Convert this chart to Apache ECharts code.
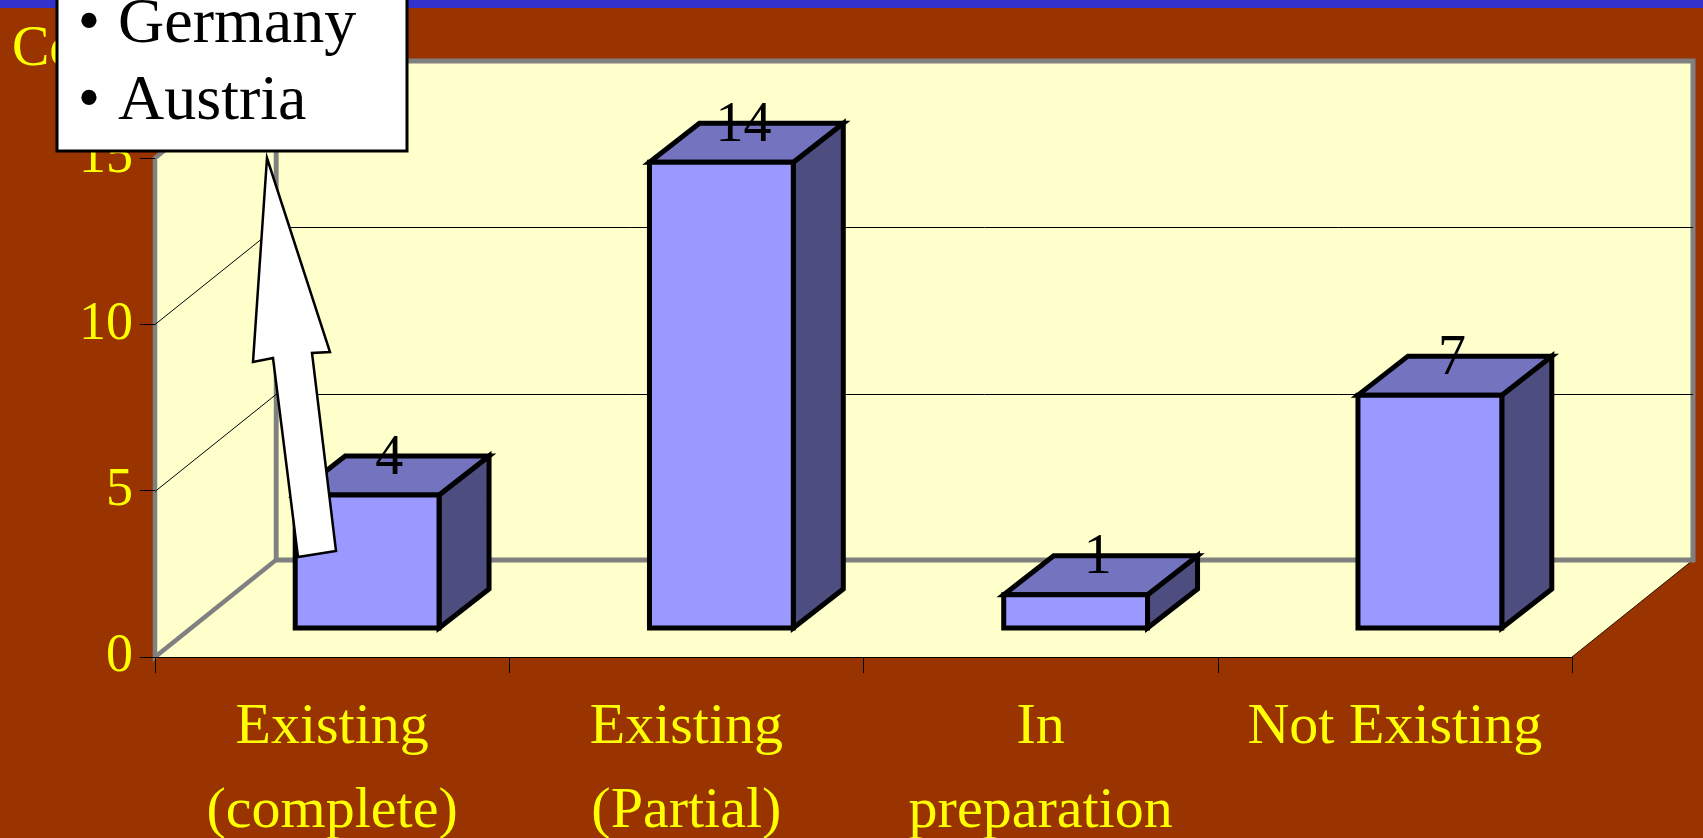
<!DOCTYPE html>
<html>
<head>
<meta charset="utf-8">
<title>Chart</title>
<style>
    html, body { margin: 0; padding: 0; background: #993300; }
    #chart { width: 1703px; height: 838px; }
</style>
<script src="https://cdn.jsdelivr.net/npm/echarts@6/dist/echarts.min.js"></script>
</head>
<body>
<div id="chart"></div>
<script>
// chart data
const categories = ['Existing\n(complete)', 'Existing\n(Partial)', 'In\npreparation', 'Not Existing'];
const values = [4, 14, 1, 7];
const gridValues = [5, 10];
const axisMax = 15;
const axisStep = 5;
const boxItems = ['Germany', 'Austria'];
const axisTitle = 'Co';

document.addEventListener('DOMContentLoaded', () => {
    const FONT = '"Liberation Serif", "Times New Roman", serif';
    const WALL_DX = 121, WALL_DY = 97;   // depth of the floor
    const BAR_DX = 50, BAR_DY = 39;      // depth of one bar
    const BAR_OFF_X = 35, BAR_OFF_Y = 29; // bars stand mid-way on the floor
    const WALL_FILL = '#FFFFCC', WALL_EDGE = '#808080';

    const myChart = echarts.init(document.getElementById('chart'));

    const poly = (points, fill, stroke, lineWidth) => ({
        type: 'polygon',
        shape: { points },
        style: { fill, stroke: stroke || null, lineWidth: lineWidth || 0, lineJoin: 'miter' }
    });
    const line = (a, b, stroke, lineWidth) => ({
        type: 'line',
        shape: { x1: a[0], y1: a[1], x2: b[0], y2: b[1] },
        style: { stroke, lineWidth }
    });

    // floor, back wall and left wall, all hung on the grid rectangle
    function renderWalls(params, api) {
        const cs = params.coordSys;
        const left = cs.x, right = cs.x + cs.width;
        const bottom = cs.y + cs.height, top = cs.y;
        const back = p => [p[0] + WALL_DX, p[1] - WALL_DY];
        const children = [
            poly([[left, bottom], back([left, bottom]), back([right, bottom]), [right, bottom]], WALL_FILL),
            line([right, bottom], back([right, bottom]), '#2a1500', 1),
            poly([back([left, top]), back([right, top]), back([right, bottom]), back([left, bottom])], WALL_FILL, WALL_EDGE, 5),
            poly([[left, top], back([left, top]), back([left, bottom]), [left, bottom]], WALL_FILL, WALL_EDGE, 4.5)
        ];
        gridValues.forEach(v => {
            const y = Math.round(api.coord([0, v])[1]) + 0.5;
            children.push(line([left, y], back([left, y]), '#000', 1));
            children.push(line(back([left, y]), back([right, y]), '#000', 1));
        });
        return { type: 'group', children };
    }

    // one 3D bar: front, top and side faces plus the value label
    function renderBar(params, api) {
        const idx = api.value(0);
        const val = api.value(1);
        const base = api.coord([idx, 0]);
        const head = api.coord([idx, val]);
        const w = api.size([1, 0])[0] * 0.406;
        const x1 = base[0] + BAR_OFF_X - w / 2;
        const x2 = x1 + w;
        const y1 = base[1] - BAR_OFF_Y;
        const y2 = head[1] - BAR_OFF_Y;
        return {
            type: 'group',
            children: [
                poly([[x2, y1], [x2 + BAR_DX, y1 - BAR_DY], [x2 + BAR_DX, y2 - BAR_DY], [x2, y2]], '#4D4D80', '#000', 5),
                poly([[x1, y2], [x2, y2], [x2 + BAR_DX, y2 - BAR_DY], [x1 + BAR_DX, y2 - BAR_DY]], '#7373BF', '#000', 5),
                poly([[x1, y1], [x2, y1], [x2, y2], [x1, y2]], '#9999FF', '#000', 5),
                {
                    type: 'text',
                    style: {
                        text: String(val),
                        x: (x1 + x2) / 2 + 22,
                        y: y2 - BAR_DY + 3,
                        align: 'center',
                        verticalAlign: 'middle',
                        font: '56px ' + FONT,
                        fill: '#000'
                    }
                }
            ]
        };
    }

    const option = {
        backgroundColor: '#993300',
        animation: false,
        grid: { left: 155, right: 131, top: 158, bottom: 181, containLabel: false, outerBoundsMode: 'none' },
        xAxis: {
            type: 'category',
            data: categories,
            z: 3,
            axisLine: { show: true, lineStyle: { color: '#000', width: 1 } },
            axisTick: { show: true, length: 16, alignWithLabel: false, lineStyle: { color: '#000', width: 1 } },
            axisLabel: {
                interval: 0,
                color: '#FFFF00',
                fontFamily: FONT,
                fontSize: 58,
                lineHeight: 84,
                margin: 29
            }
        },
        yAxis: {
            type: 'value',
            min: 0,
            max: axisMax,
            interval: axisStep,
            z: 3,
            axisLine: { show: false },
            axisTick: { show: true, length: 15, lineStyle: { color: '#000', width: 1 } },
            splitLine: { show: false },
            axisLabel: { color: '#FFFF00', fontFamily: FONT, fontSize: 54, margin: 22, padding: [4, 0, 0, 0] }
        },
        series: [
            {
                type: 'custom',
                z: 1,
                silent: true,
                clip: false,
                renderItem: renderWalls,
                data: [[0, 0]]
            },
            {
                type: 'custom',
                z: 2,
                clip: false,
                renderItem: renderBar,
                encode: { x: 0, y: 1 },
                data: values.map((v, i) => [i, v])
            }
        ],
        graphic: [
            // blue strip along the top of the slide
            { type: 'rect', z: 50, shape: { x: 0, y: 0, width: 1703, height: 8 }, style: { fill: '#3333CC' } },
            // axis title, mostly hidden by the call-out box
            {
                type: 'text', z: 50, x: 12, y: 22,
                style: { text: axisTitle, font: '56px ' + FONT, fill: '#FFFF00' }
            },
            // arrow from the bar up to the box
            {
                type: 'polygon', z: 60,
                shape: { points: [[267, 158], [330, 352], [312, 353], [336, 551], [298, 557], [273, 358], [253, 362]] },
                style: { fill: '#FFFFFF', stroke: '#000', lineWidth: 2.5 }
            },
            // call-out box
            {
                type: 'rect', z: 70,
                shape: { x: 57, y: -10, width: 350, height: 161 },
                style: { fill: '#FFFFFF', stroke: '#000', lineWidth: 3 }
            },
            ...boxItems.map((name, i) => ({
                type: 'text', z: 71, x: 89, y: -7 + i * 77,
                style: { text: '•', font: '64px ' + FONT, fill: '#000', align: 'center' }
            })),
            ...boxItems.map((name, i) => ({
                type: 'text', z: 71, x: 118, y: -7 + i * 77,
                style: { text: name, font: '64px ' + FONT, fill: '#000' }
            }))
        ]
    };

    myChart.setOption(option);

    window.addEventListener('resize', () => {
        myChart.resize();
    });
});
</script>
</body>
</html>
